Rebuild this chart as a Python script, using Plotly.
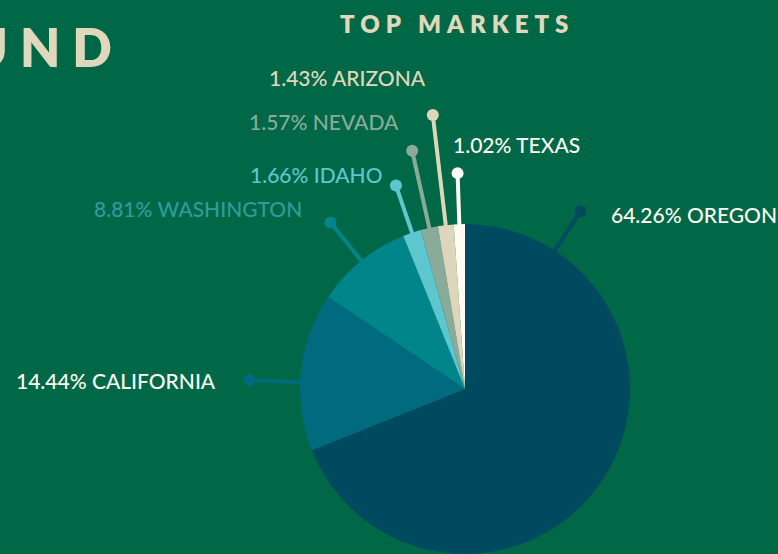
import numpy as np
import plotly.graph_objects as go

W, H = 778, 554

# -------------------------
# Data
# -------------------------
STATES = ["OREGON", "CALIFORNIA", "WASHINGTON", "IDAHO", "NEVADA", "ARIZONA", "TEXAS"]
SHARES = [64.26, 14.44, 8.81, 1.66, 1.57, 1.43, 1.02]

SLICE_COLORS = ["#004a5f", "#006b7e", "#00858a", "#5ec6cf", "#8aab9a", "#ddd6bb", "#fffaf2"]
LABEL_COLORS = ["#fdfaf2", "#fdfaf2", "#2e9c9d", "#5ec6cf", "#8aab9a", "#e0d8bc", "#fdfaf2"]

BG = "#006846"
CREAM = "#e0d8bc"

# pie geometry (pixels, y down)
CX, CY, R = 465, 389, 165

# leader layout: end radius, angle override, text offset from dot, anchor
LEADER_R = [212, 216, 214, 215, 244, 276, 216]
ANGLE_OVERRIDE = {0: 33, 1: 272.4}
TEXT_DX = [29, -31, -26, -12, -11, -5, -7]
TEXT_DY = [3, 1, -14, -11, -29, -37, -29]
TEXT_ANCHOR = ["left", "right", "right", "right", "right", "right", "left"]

# -------------------------
# Angles of slice middles (clockwise from 12 o'clock)
# -------------------------
vals = np.array(SHARES)
cum = np.cumsum(vals) / vals.sum() * 360
mid = cum - vals / vals.sum() * 360 / 2


def polar(r, theta):
    t = np.radians(theta)
    return CX + r * np.sin(t), CY - r * np.cos(t)


fig = go.Figure()

fig.add_trace(go.Pie(
    labels=STATES,
    values=SHARES,
    marker=dict(colors=SLICE_COLORS),
    textinfo="none",
    sort=False,
    direction="clockwise",
    rotation=0,
    hoverinfo="skip",
    showlegend=False,
    domain=dict(
        x=[(CX - R) / W, (CX + R) / W],
        y=[(H - CY - R) / H, (H - CY + R) / H]
    )
))

dot_x, dot_y = [], []
shapes = []
annotations = []

for i, name in enumerate(STATES):

    theta = ANGLE_OVERRIDE.get(i, mid[i])

    x0, y0 = polar(R - 1, theta)
    x1, y1 = polar(LEADER_R[i], theta)

    shapes.append(dict(
        type="line", xref="x", yref="y",
        x0=x0, y0=y0, x1=x1, y1=y1,
        line=dict(color=SLICE_COLORS[i], width=4),
        layer="above"
    ))

    dot_x.append(x1)
    dot_y.append(y1)

    annotations.append(dict(
        x=x1 + TEXT_DX[i], y=y1 + TEXT_DY[i],
        xref="x", yref="y",
        text=f"{SHARES[i]:.2f}% {name}",
        showarrow=False,
        xanchor=TEXT_ANCHOR[i], yanchor="middle",
        font=dict(family="Lato", size=21, color=LABEL_COLORS[i], weight=500)
    ))

fig.add_trace(go.Scatter(
    x=dot_x, y=dot_y,
    mode="markers",
    marker=dict(size=12, color=SLICE_COLORS),
    hoverinfo="skip",
    showlegend=False
))

# titles
annotations.append(dict(
    x=457, y=23, xref="x", yref="y",
    text='<span style="letter-spacing:6px">TOP MARKETS</span>',
    showarrow=False, xanchor="center", yanchor="middle",
    font=dict(family="Lato", size=24, color=CREAM, weight=800)
))

annotations.append(dict(
    x=126, y=47, xref="x", yref="y",
    text='<span style="letter-spacing:12px">UND</span>',
    showarrow=False, xanchor="right", yanchor="middle",
    font=dict(family="Lato", size=52, color=CREAM, weight=800)
))

fig.update_layout(
    width=W, height=H,
    margin=dict(l=0, r=0, t=0, b=0),
    paper_bgcolor=BG,
    plot_bgcolor=BG,
    xaxis=dict(range=[0, W], visible=False, fixedrange=True),
    yaxis=dict(range=[H, 0], visible=False, fixedrange=True),
    shapes=shapes,
    annotations=annotations
)

fig.write_html(
    "out.html",
    config=dict(displayModeBar=False),
    post_script="document.body.style.margin='0';"
)
